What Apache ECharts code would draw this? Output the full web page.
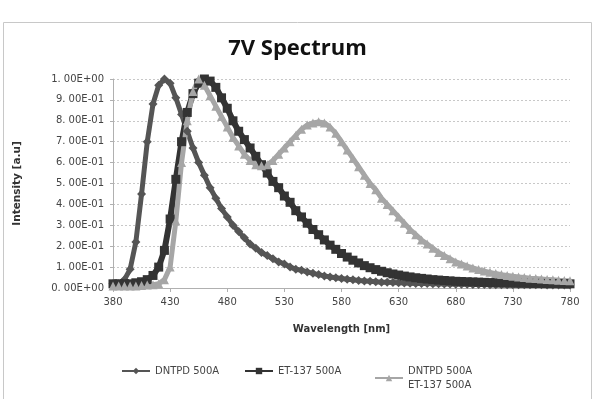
<!DOCTYPE html>
<html>
<head>
<meta charset="utf-8">
<script src="https://cdn.jsdelivr.net/npm/echarts@6/dist/echarts.min.js"></script>
<style>
  html, body { margin: 0; padding: 0; background: #fff; }
  #chart { width: 595px; height: 399px; }
</style>
</head>
<body>
<div id="chart"></div>
<script>
// 波长 (nm)，每 5nm 一个点
const wavelengths = [
  380,385,390,395,400,405,410,415,420,425,430,435,440,445,450,455,460,465,470,475,
  480,485,490,495,500,505,510,515,520,525,530,535,540,545,550,555,560,565,570,575,
  580,585,590,595,600,605,610,615,620,625,630,635,640,645,650,655,660,665,670,675,
  680,685,690,695,700,705,710,715,720,725,730,735,740,745,750,755,760,765,770,775,780
];

// DNTPD 500A
const dntpd = [
  0.02,0.02,0.04,0.09,0.22,0.45,0.70,0.88,0.97,1.00,0.98,0.91,0.83,0.75,0.67,0.60,0.54,0.48,0.43,0.38,
  0.34,0.30,0.27,0.24,0.21,0.19,0.17,0.155,0.14,0.125,0.115,0.10,0.09,0.085,0.077,0.07,0.064,0.058,0.053,0.049,
  0.045,0.042,0.039,0.036,0.034,0.032,0.030,0.028,0.027,0.026,0.025,0.024,0.023,0.022,0.021,0.021,0.020,0.020,0.019,0.019,
  0.018,0.018,0.018,0.017,0.017,0.017,0.016,0.016,0.016,0.016,0.015,0.015,0.015,0.015,0.015,0.015,0.014,0.014,0.014,0.014,0.014
];

// ET-137 500A
const et137 = [
  0.02,0.02,0.02,0.02,0.025,0.03,0.04,0.06,0.10,0.18,0.33,0.52,0.70,0.84,0.93,0.98,1.00,0.99,0.96,0.91,
  0.86,0.80,0.75,0.71,0.67,0.63,0.59,0.55,0.51,0.48,0.44,0.41,0.37,0.34,0.31,0.28,0.255,0.23,0.205,0.185,
  0.165,0.148,0.133,0.12,0.107,0.097,0.088,0.080,0.073,0.067,0.062,0.057,0.053,0.049,0.046,0.043,0.040,0.038,0.036,0.034,
  0.032,0.031,0.030,0.029,0.028,0.027,0.026,0.025,0.025,0.024,0.024,0.023,0.023,0.022,0.022,0.022,0.021,0.021,0.021,0.020,0.020
];

// DNTPD 500A / ET-137 500A
const combo = [
  0.01,0.01,0.01,0.01,0.01,0.012,0.014,0.016,0.02,0.04,0.10,0.32,0.60,0.80,0.94,1.00,0.97,0.92,0.87,0.82,
  0.77,0.72,0.68,0.64,0.61,0.59,0.585,0.59,0.61,0.64,0.67,0.70,0.73,0.76,0.78,0.79,0.795,0.79,0.77,0.74,
  0.70,0.66,0.62,0.58,0.54,0.50,0.47,0.43,0.40,0.37,0.34,0.31,0.28,0.255,0.23,0.21,0.19,0.17,0.155,0.14,
  0.125,0.115,0.105,0.096,0.088,0.081,0.075,0.069,0.064,0.060,0.056,0.053,0.050,0.047,0.045,0.043,0.041,0.039,0.037,0.036,0.035
];

const seriesNames = ['DNTPD 500A', 'ET-137 500A', 'DNTPD 500A\nET-137 500A'];
const yTickLabels = ['0. 00E+00','1. 00E-01','2. 00E-01','3. 00E-01','4. 00E-01','5. 00E-01',
                     '6. 00E-01','7. 00E-01','8. 00E-01','9. 00E-01','1. 00E+00'];

const chart = echarts.init(document.getElementById('chart'));

function legendAt(name, left){
  return {
    data: [name],
    left: left,
    top: 359,
    itemWidth: 28,
    itemHeight: 8,
    itemGap: 0,
    selectedMode: false,
    textStyle: { fontSize: 10, color: '#444', fontFamily: 'DejaVu Sans', lineHeight: 14 }
  };
}

const option = {
  backgroundColor: '#fff',
  animation: false,
  title: {
    text: '7V Spectrum',
    left: 'center',
    top: 33,
    textStyle: { fontSize: 22, fontWeight: 'bold', color: '#111', fontFamily: 'Open Sans' }
  },
  graphic: [{
    type: 'rect',
    shape: { x: 3.5, y: 22.5, width: 588, height: 400 },
    style: { fill: 'none', stroke: '#c8c8c8', lineWidth: 1 },
    silent: true
  }],
  legend: [
    legendAt(seriesNames[0], 116),
    legendAt(seriesNames[1], 239),
    legendAt(seriesNames[2], 369)
  ],
  grid: { left: 113, right: 25, top: 79, bottom: 111 },
  xAxis: {
    type: 'category',
    data: wavelengths,
    boundaryGap: false,
    name: 'Wavelength [nm]',
    nameLocation: 'middle',
    nameGap: 36,
    nameTextStyle: { fontSize: 10, fontWeight: 'bold', color: '#333', fontFamily: 'DejaVu Sans' },
    axisLine: { lineStyle: { color: '#b0b0b0' } },
    axisTick: { interval: 9, length: 4, lineStyle: { color: '#b0b0b0' } },
    axisLabel: { interval: 9, fontSize: 10, color: '#444', margin: 9, fontFamily: 'DejaVu Sans' },
    splitLine: { show: false }
  },
  yAxis: {
    type: 'value',
    min: 0,
    max: 1,
    interval: 0.1,
    name: 'Intensity [a.u]',
    nameLocation: 'middle',
    nameGap: 90,
    nameTextStyle: { fontSize: 10.5, fontWeight: 'bold', color: '#333', fontFamily: 'DejaVu Sans' },
    axisLine: { show: true, lineStyle: { color: '#b0b0b0' } },
    axisTick: { show: true, length: 3, lineStyle: { color: '#b0b0b0' } },
    axisLabel: {
      fontSize: 10, color: '#444', margin: 9, fontFamily: 'DejaVu Sans',
      formatter: v => yTickLabels[Math.round(v * 10)]
    },
    splitLine: { lineStyle: { color: '#c8c8c8', type: [2, 2] } }
  },
  series: [
    {
      name: seriesNames[0], type: 'line', data: dntpd,
      symbol: 'diamond', symbolSize: 9, showAllSymbol: true,
      lineStyle: { color: '#555', width: 5 },
      itemStyle: { color: '#555' }
    },
    {
      name: seriesNames[1], type: 'line', data: et137,
      symbol: 'rect', symbolSize: 9, showAllSymbol: true,
      lineStyle: { color: '#333', width: 6 },
      itemStyle: { color: '#333' }
    },
    {
      name: seriesNames[2], type: 'line', data: combo,
      symbol: 'triangle', symbolSize: 9, showAllSymbol: true,
      lineStyle: { color: '#a6a6a6', width: 5 },
      itemStyle: { color: '#a6a6a6' }
    }
  ]
};

chart.setOption(option);
</script>
</body>
</html>
